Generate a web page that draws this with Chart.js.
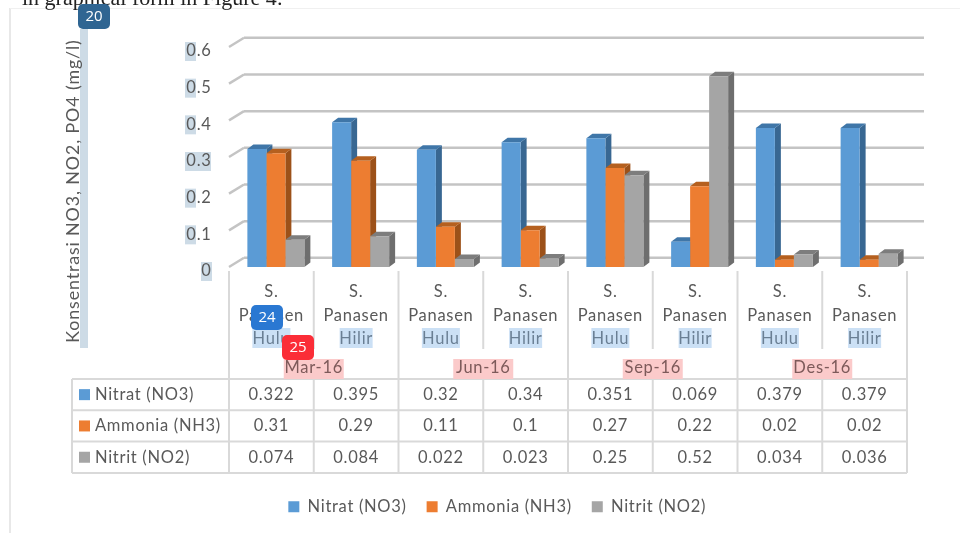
<!DOCTYPE html>
<html>
<head>
<meta charset="utf-8">
<title>Konsentrasi NO3, NO2, PO4</title>
<script src="https://cdn.jsdelivr.net/npm/chart.js@4"></script>
<style>
  html, body { margin: 0; padding: 0; background: #fff; }
  canvas { display: block; }
</style>
</head>
<body>
<canvas id="chart" width="960" height="533"></canvas>
<script>
const stations = [['S.', 'Panasen', 'Hulu'], ['S.', 'Panasen', 'Hilir'], ['S.', 'Panasen', 'Hulu'], ['S.', 'Panasen', 'Hilir'],
                  ['S.', 'Panasen', 'Hulu'], ['S.', 'Panasen', 'Hilir'], ['S.', 'Panasen', 'Hulu'], ['S.', 'Panasen', 'Hilir']];
const periods = ['Mar-16', 'Jun-16', 'Sep-16', 'Des-16'];
const seriesNames = ['Nitrat (NO3)', 'Ammonia (NH3)', 'Nitrit (NO2)'];
const nitrat = [0.322, 0.395, 0.32, 0.34, 0.351, 0.069, 0.379, 0.379];
const ammonia = [0.31, 0.29, 0.11, 0.1, 0.27, 0.22, 0.02, 0.02];
const nitrit = [0.074, 0.084, 0.022, 0.023, 0.25, 0.52, 0.034, 0.036];
const yTicks = [0, 0.1, 0.2, 0.3, 0.4, 0.5, 0.6];
const yTitle = 'Konsentrasi NO3, NO2, PO4 (mg/l)';
const pageText = 'in graphical form in Figure 4:';

const frontColors = ['#5b9bd5', '#ed7d31', '#a5a5a5'];
const sideColors = ['#386792', '#9c5119', '#6e6e6e'];
const topColors = ['#3f76a8', '#b5601f', '#7d7d7d'];
const textColor = '#595959';
const lineColor = '#d9d9d9';
const font = '"Lato"';
const spacing = '0.7px';

// decalage de la perspective 3D
const barDx = 6, barDy = -4.5, wallDx = 15, wallDy = -9.2;
const tableShift = 4.5;

function fmt(v) { return String(v); }

function rect(ctx, color, x, y, w, h) {
  ctx.fillStyle = color;
  ctx.fillRect(x, y, w, h);
}

function line(ctx, color, width, x1, y1, x2, y2) {
  ctx.strokeStyle = color;
  ctx.lineWidth = width;
  ctx.beginPath();
  ctx.moveTo(x1, y1);
  ctx.lineTo(x2, y2);
  ctx.stroke();
}

function badge(ctx, color, label, x, y) {
  ctx.fillStyle = color;
  ctx.beginPath();
  ctx.roundRect(x, y, 32, 25, 5);
  ctx.fill();
  ctx.fillStyle = '#fff';
  ctx.font = '15px "Open Sans"';
  ctx.textAlign = 'center';
  ctx.textBaseline = 'middle';
  ctx.fillText(label, x + 16, y + 13);
}

const backdropPlugin = {
  id: 'backdrop',
  beforeDraw(chart) {
    const ctx = chart.ctx;
    ctx.letterSpacing = spacing;
    ctx.save();
    // cadre de la page et texte coupe en haut
    rect(ctx, '#e8e8e8', 9, 8, 2, 525);
    rect(ctx, '#f0f0f0', 10, 8, 950, 1);
    ctx.letterSpacing = '0px';
    ctx.fillStyle = '#222';
    ctx.font = '22px "Liberation Serif"';
    ctx.textAlign = 'left';
    ctx.textBaseline = 'alphabetic';
    ctx.fillText(pageText, 22, 5);

    // surlignages
    const hiBlue = '#cddbe6';
    rect(ctx, hiBlue, 80, 29, 8, 319);
    const y = chart.scales.y;
    yTicks.forEach(v => {
      const py = y.getPixelForValue(v) + 4;
      const w = v === 0.3 ? 26 : 11;
      const x = v === 0 ? 201 : 185;
      rect(ctx, hiBlue, x, py - 9, v === 0 ? 11 : w, 19);
    });
    ctx.restore();
  },
  beforeDatasetsDraw(chart) {
    const ctx = chart.ctx;
    const { x, y } = chart.scales;
    const left = x.left - tableShift;
    const right = x.right - tableShift;
    ctx.save();
    // murs du fond : quadrillage et diagonales
    yTicks.forEach(v => {
      const py = y.getPixelForValue(v);
      line(ctx, '#c4c4c4', 2.5, left, py, left + wallDx, py + wallDy);
      line(ctx, '#c4c4c4', 2.5, left + wallDx, py + wallDy, right + wallDx + 2, py + wallDy);
    });
    // faces laterales et dessus des barres
    chart.data.datasets.forEach((ds, i) => {
      chart.getDatasetMeta(i).data.forEach(bar => {
        const r = bar.x + bar.width / 2, l = bar.x - bar.width / 2;
        ctx.fillStyle = sideColors[i];
        ctx.beginPath();
        ctx.moveTo(r, bar.base);
        ctx.lineTo(r + barDx, bar.base + barDy);
        ctx.lineTo(r + barDx, bar.y + barDy);
        ctx.lineTo(r, bar.y);
        ctx.fill();
        ctx.fillStyle = topColors[i];
        ctx.beginPath();
        ctx.moveTo(l, bar.y);
        ctx.lineTo(l + barDx, bar.y + barDy);
        ctx.lineTo(r + barDx, bar.y + barDy);
        ctx.lineTo(r, bar.y);
        ctx.fill();
      });
    });
    ctx.restore();
  },
  afterDraw(chart) {
    const ctx = chart.ctx;
    const { x } = chart.scales;
    const left = x.left - tableShift;
    const cell = x.width / stations.length;
    const rowTop = 379, rowH = 31.3, tableLeft = 72;
    const rowBottom = rowTop + rowH * seriesNames.length;
    ctx.save();

    // separateurs des categories
    for (let i = 0; i <= stations.length; i++) {
      const px = left + i * cell;
      const long = i % 2 === 0;
      line(ctx, lineColor, 2, px, 271, px, long ? rowBottom : 349);
      if (!long) line(ctx, lineColor, 2, px, rowTop, px, rowBottom);
    }
    // tableau de donnees
    line(ctx, lineColor, 2, tableLeft, rowTop, tableLeft, rowBottom);
    for (let r = 0; r <= seriesNames.length; r++) {
      line(ctx, lineColor, 2, tableLeft, rowTop + r * rowH, left + stations.length * cell, rowTop + r * rowH);
    }
    ctx.font = '16.5px ' + font;
    ctx.textBaseline = 'middle';
    [nitrat, ammonia, nitrit].forEach((values, r) => {
      const cy = rowTop + (r + 0.5) * rowH;
      rect(ctx, frontColors[r], 79, cy - 5.5, 11, 11);
      ctx.fillStyle = textColor;
      ctx.textAlign = 'left';
      ctx.fillText(seriesNames[r], 95, cy);
      ctx.textAlign = 'center';
      values.forEach((v, i) => ctx.fillText(fmt(v), left + (i + 0.5) * cell, cy));
    });

    // surlignage des libelles Hulu / Hilir
    ctx.textAlign = 'center';
    stations.forEach((s, i) => {
      const w = s[2] === 'Hulu' ? 38 : 33;
      ctx.fillStyle = 'rgba(130,180,230,0.42)';
      ctx.fillRect(left + (i + 0.5) * cell - w / 2, 328, w, 20);
    });
    // periodes
    periods.forEach((p, i) => {
      const cx = left + (i * 2 + 1) * cell;
      ctx.fillStyle = '#fbcaca';
      ctx.fillRect(cx - 30, 359, 60, 20);
      ctx.fillStyle = '#7d5a5a';
      ctx.fillText(p, cx, 368);
    });

    // titre de l'axe Y
    ctx.save();
    ctx.translate(73, 191);
    ctx.rotate(-Math.PI / 2);
    ctx.fillStyle = textColor;
    ctx.font = '17.8px ' + font;
    ctx.letterSpacing = '0.9px';
    ctx.fillText(yTitle, 0, 0);
    ctx.restore();

    ctx.letterSpacing = '0px';
    badge(ctx, '#2f6592', '20', 78, 4);
    badge(ctx, '#2a78d2', '24', 251, 305);
    badge(ctx, '#fb2d37', '25', 282, 335);
    ctx.restore();
  }
};

new Chart(document.getElementById('chart').getContext('2d'), {
  type: 'bar',
  data: {
    labels: stations,
    datasets: [
      { label: seriesNames[0], data: nitrat, backgroundColor: frontColors[0] },
      { label: seriesNames[1], data: ammonia, backgroundColor: frontColors[1] },
      { label: seriesNames[2], data: nitrit, backgroundColor: frontColors[2] }
    ]
  },
  options: {
    responsive: false,
    animation: false,
    layout: { padding: { top: 47, right: 48.5, bottom: 8, left: 57 } },
    datasets: { bar: { barPercentage: 1, categoryPercentage: 0.6726 } },
    scales: {
      x: {
        border: { display: false },
        grid: { display: false },
        afterFit: s => { s.height = 211.5; },
        ticks: { color: textColor, font: { family: font, size: 16.5, lineHeight: 1.43 }, padding: 5, autoSkip: false, maxRotation: 0, labelOffset: -4.5 }
      },
      y: {
        min: 0,
        max: 0.6,
        border: { display: false },
        grid: { display: false },
        afterFit: s => { s.width = 176.5; },
        afterBuildTicks: s => { s.ticks = yTicks.map(v => ({ value: v })); },
        ticks: { color: textColor, font: { family: font, size: 16.5 }, padding: 14, labelOffset: 4, callback: v => fmt(v) }
      }
    },
    plugins: {
      legend: {
        position: 'bottom',
        labels: { color: textColor, font: { family: font, size: 16.5 }, boxWidth: 11, boxHeight: 11, padding: 20 }
      },
      tooltip: { enabled: false }
    }
  },
  plugins: [backdropPlugin]
});
</script>
</body>
</html>
